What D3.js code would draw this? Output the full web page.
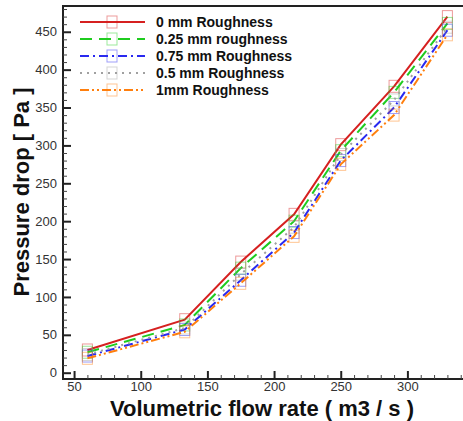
<!DOCTYPE html>
<html>
<head>
<meta charset="utf-8">
<script src="https://cdn.jsdelivr.net/npm/d3@7"></script>
<style>
  body { margin: 0; background: #fff; }
  svg { font-family: "Liberation Sans", Arial, sans-serif; }
</style>
</head>
<body>
<svg id="chart" width="463" height="421"></svg>
<script>
// data
flowRates = [60, 133, 175, 215, 250, 290, 330]
rough0 = [30, 70, 146, 209, 301, 378, 470]
rough025 = [27, 63, 138, 200, 293, 370, 461]
rough075 = [22, 57, 122, 185, 280, 350, 452]
rough05 = [24, 59, 130, 192, 288, 360, 456]
rough1 = [19, 54, 118, 180, 275, 340, 446]
seriesNames = ["0 mm Roughness", "0.25 mm roughness", "0.75 mm Roughness", "0.5 mm Roughness", "1mm Roughness"]
xTicks = [50, 100, 150, 200, 250, 300]
yTicks = [0, 50, 100, 150, 200, 250, 300, 350, 400, 450]

series = [
  {name: seriesNames[0], values: rough0, color: "#d62020", dash: null},
  {name: seriesNames[1], values: rough025, color: "#1fcc1f", dash: "12,7"},
  {name: seriesNames[2], values: rough075, color: "#2929f0", dash: "9,4,2,4"},
  {name: seriesNames[3], values: rough05, color: "#a0a0a0", dash: "2,5"},
  {name: seriesNames[4], values: rough1, color: "#ff7f0e", dash: "9,3,2,3,2,3"},
]

svg = d3.select("#chart")
margin = {left: 63, top: 6, right: -10, bottom: 42}
width = +svg.attr("width")
height = +svg.attr("height")

x = d3.scaleLinear()
  .domain([41.7, 341.7])
  .range([margin.left, width])

y = d3.scaleLinear()
  .domain([-8.3, 484])
  .range([height - margin.bottom, margin.top])

// frame
svg.append("rect")
  .attr("x", margin.left).attr("y", margin.top)
  .attr("width", width + 20 - margin.left)
  .attr("height", height - margin.bottom - margin.top)
  .attr("fill", "none").attr("stroke", "#222").attr("stroke-width", 2)

// minor ticks
xMinor = d3.range(50, 341, 10).filter(v => v % 50 != 0)
yMinor = d3.range(0, 481, 10).filter(v => v % 50 != 0)

svg.append("g")
  .attr("transform", `translate(0, ${height - margin.bottom})`)
  .call(d3.axisBottom(x).tickValues(xMinor).tickSize(-4).tickFormat(""))
  .call(g => g.select(".domain").remove())
  .call(g => g.selectAll("line").attr("stroke", "#444"))

svg.append("g")
  .attr("transform", `translate(${margin.left}, 0)`)
  .call(d3.axisLeft(y).tickValues(yMinor).tickSize(-4).tickFormat(""))
  .call(g => g.select(".domain").remove())
  .call(g => g.selectAll("line").attr("stroke", "#444"))

// major ticks
xAxis = svg.append("g")
  .attr("transform", `translate(0, ${height - margin.bottom})`)
  .call(d3.axisBottom(x).tickValues(xTicks).tickSize(-8).tickPadding(3))
xAxis.select(".domain").remove()
xAxis.selectAll("line").attr("stroke", "#222").attr("stroke-width", 2)
xAxis.selectAll("text").attr("font-size", 13).attr("fill", "#333")

yAxis = svg.append("g")
  .attr("transform", `translate(${margin.left}, 0)`)
  .call(d3.axisLeft(y).tickValues(yTicks).tickSize(-8).tickPadding(6))
yAxis.select(".domain").remove()
yAxis.selectAll("line").attr("stroke", "#222").attr("stroke-width", 2)
yAxis.selectAll("text").attr("font-size", 13).attr("fill", "#333")

// lines + box markers
series.forEach(s => {
  line = d3.line()
    .x((d, i) => x(flowRates[i]))
    .y(d => y(d))
  svg.append("path")
    .datum(s.values)
    .attr("fill", "none")
    .attr("stroke", s.color)
    .attr("stroke-width", 2)
    .attr("stroke-dasharray", s.dash)
    .attr("d", line)

  svg.append("g")
    .selectAll("rect")
    .data(s.values)
    .enter().append("rect")
    .attr("x", (d, i) => x(flowRates[i]) - 5)
    .attr("y", d => y(d) - 6)
    .attr("width", 10)
    .attr("height", 12)
    .attr("fill", "none")
    .attr("stroke", s.color)
    .attr("stroke-opacity", 0.45)
    .attr("stroke-width", 1)
})

// legend
legend = svg.append("g")
series.forEach((s, i) => {
  ly = 22 + i * 17
  legend.append("line")
    .attr("x1", 80).attr("x2", 145)
    .attr("y1", ly).attr("y2", ly)
    .attr("stroke", s.color)
    .attr("stroke-width", 2)
    .attr("stroke-dasharray", s.dash)
  legend.append("rect")
    .attr("x", 107).attr("y", ly - 6)
    .attr("width", 10).attr("height", 12)
    .attr("fill", "none")
    .attr("stroke", s.color)
    .attr("stroke-opacity", 0.45)
  legend.append("text")
    .attr("x", 156).attr("y", ly + 5)
    .attr("font-size", 14)
    .attr("font-weight", "bold")
    .attr("fill", "#111")
    .text(s.name)
})

// axis titles
svg.append("text")
  .attr("x", 262).attr("y", 416)
  .attr("text-anchor", "middle")
  .attr("font-size", 22)
  .attr("font-weight", "bold")
  .attr("fill", "#111")
  .text("Volumetric flow rate ( m3 / s )")

svg.append("text")
  .attr("transform", "translate(29, 192) rotate(-90)")
  .attr("text-anchor", "middle")
  .attr("font-size", 22)
  .attr("font-weight", "bold")
  .attr("fill", "#111")
  .text("Pressure drop [ Pa ]")
</script>
</body>
</html>
